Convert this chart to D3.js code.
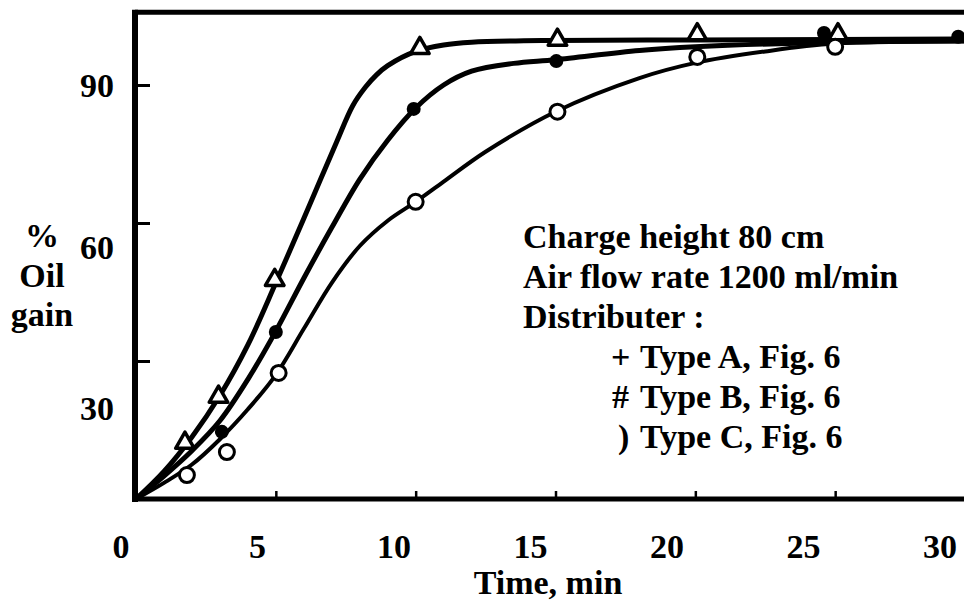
<!DOCTYPE html>
<html>
<head>
<meta charset="utf-8">
<script src="https://cdn.jsdelivr.net/npm/d3@7"></script>
<style>
  html, body { margin: 0; padding: 0; background: #fff; }
  svg { display: block; }
</style>
</head>
<body>
<svg id="chart" width="964" height="604"></svg>
<script>
// ---- data ----
// marker points (time, min ; % oil gain)
const typeA_t = [1.75, 2.95, 4.96, 10.15, 15.07, 20.07, 25.1];
const typeA_v = [12.2, 22.2, 47.6, 98.0, 99.8, 101.0, 101.0];
const typeB_t = [3.07, 5.0, 9.93, 15.03, 24.6, 29.4];
const typeB_v = [14.6, 36.3, 84.8, 95.2, 101.3, 100.5];
const typeC_t = [1.82, 3.25, 5.1, 10.0, 15.07, 20.07, 25.0];
const typeC_v = [5.2, 10.2, 27.4, 64.6, 84.2, 96.1, 98.3];

// hand-drawn smooth curves
const curveA_t = [0, 1, 2, 3, 4, 5, 6, 6.6, 7.2, 7.75, 8.2, 8.6, 9, 10, 11, 12, 15, 20, 25, 30];
const curveA_v = [0, 6, 13.5, 22.5, 33.5, 47, 61, 69.5, 78, 85.5, 89.5, 92.2, 94.2, 97.3, 98.7, 99.3, 99.7, 99.8, 99.9, 100];
const curveB_t = [0, 1, 2, 3, 4, 5, 6, 7, 8, 9, 10, 11, 12, 13.5, 15, 18, 20, 25, 30];
const curveB_v = [0, 5, 10.5, 17, 26, 36.5, 48, 59, 69.5, 78, 85, 90, 93, 94.7, 95.5, 97.5, 98.3, 99.3, 99.6];
const curveC_t = [0, 1, 2, 3, 4, 5, 6, 7, 8, 9, 10, 11, 12.5, 15, 18, 20, 22.5, 25, 30];
const curveC_v = [0, 3.5, 7.5, 13, 19.5, 27, 37, 47, 55, 60.5, 64.6, 69, 75.5, 84.2, 91.5, 94.8, 97.3, 99, 99.5];

// axis ticks and labels
const xTicks = [5, 10, 15, 20, 25];
const xTickLabels = [0, 5, 10, 15, 20, 25, 30];
const yTicks = [30, 60, 90];
const yTickLabels = [30, 60, 90];
const yTitle = ["%", "Oil", "gain"];
const xTitle = "Time, min";
const noteLines = ["Charge height 80 cm", "Air flow rate 1200 ml/min", "Distributer :"];
const legendSymbols = ["+", "#", ")"];
const legendNames = ["Type A, Fig. 6", "Type B, Fig. 6", "Type C, Fig. 6"];

// ---- drawing ----
const FONT = "'Times New Roman', 'Liberation Serif', 'DejaVu Serif', serif";
const svg = d3.select("#chart");
const x = d3.scaleLinear().domain([0, 30]).range([136, 975]);
const y = d3.scaleLinear().domain([0, 90]).range([499, 85]);
// the printed tick labels sit on their own (offset) spacing in the original
const xLab = d3.scaleLinear().domain([0, 30]).range([121, 940]);
const yLab = d3.scaleLinear().domain([30, 90]).range([420, 97]);

const zip = (a, b) => a.map((d, i) => [d, b[i]]);
const txt = sel => sel.attr("font-family", FONT).attr("font-weight", "bold")
  .attr("font-size", 34).attr("fill", "#000");

// frame
svg.append("line").attr("x1", 135).attr("x2", 964).attr("y1", y(105.8)).attr("y2", y(105.8))
  .attr("stroke", "#000").attr("stroke-width", 5);
svg.append("line").attr("x1", 135).attr("x2", 135).attr("y1", y(105.8) - 2.5).attr("y2", y(0) + 3)
  .attr("stroke", "#000").attr("stroke-width", 6);
svg.append("line").attr("x1", 132).attr("x2", 964).attr("y1", y(0)).attr("y2", y(0))
  .attr("stroke", "#000").attr("stroke-width", 5);

// ticks via d3 axes (inward)
const yAx = svg.append("g").attr("transform", "translate(135,0)")
  .call(d3.axisLeft(y).tickValues(yTicks).tickSize(-15).tickFormat(""));
yAx.select(".domain").remove();
yAx.selectAll(".tick line").attr("stroke", "#000").attr("stroke-width", 3);

const xAx = svg.append("g").attr("transform", `translate(0,${y(0)})`)
  .call(d3.axisBottom(x).tickValues(xTicks).tickSize(-8).tickFormat(""));
xAx.select(".domain").remove();
xAx.selectAll(".tick line").attr("stroke", "#000").attr("stroke-width", 2.5);

// tick labels
svg.append("g").selectAll("text").data(xTickLabels).join("text")
  .attr("x", d => xLab(d)).attr("y", 558).attr("text-anchor", "middle")
  .call(txt).text(d => d);
svg.append("g").selectAll("text").data(yTickLabels).join("text")
  .attr("x", 114).attr("y", d => yLab(d)).attr("text-anchor", "end")
  .call(txt).text(d => d);

// axis titles
svg.append("g").selectAll("text").data(yTitle).join("text")
  .attr("x", 42).attr("y", (d, i) => 247 + i * 39.5).attr("text-anchor", "middle")
  .call(txt).text(d => d);
svg.append("text").attr("x", 548).attr("y", 594).attr("text-anchor", "middle")
  .call(txt).text(xTitle);

// curves
const line = d3.line().x(d => x(d[0])).y(d => y(d[1])).curve(d3.curveCatmullRom.alpha(0.5));
const curves = [
  { pts: zip(curveC_t, curveC_v), w: 4 },
  { pts: zip(curveB_t, curveB_v), w: 5 },
  { pts: zip(curveA_t, curveA_v), w: 5 }
];
svg.append("g").selectAll("path").data(curves).join("path")
  .attr("d", d => line(d.pts)).attr("fill", "none").attr("stroke", "#000")
  .attr("stroke-width", d => d.w).attr("stroke-linecap", "round");

// markers
const tri = d3.symbol().type(d3.symbolTriangle).size(150);
svg.append("g").selectAll("path").data(zip(typeA_t, typeA_v)).join("path")
  .attr("d", tri).attr("transform", d => `translate(${x(d[0])},${y(d[1])})`)
  .attr("fill", "#fff").attr("stroke", "#000").attr("stroke-width", 3.5).attr("stroke-linejoin", "round");
svg.append("g").selectAll("circle").data(zip(typeB_t, typeB_v)).join("circle")
  .attr("cx", d => x(d[0])).attr("cy", d => y(d[1])).attr("r", 7).attr("fill", "#000");
svg.append("g").selectAll("circle").data(zip(typeC_t, typeC_v)).join("circle")
  .attr("cx", d => x(d[0])).attr("cy", d => y(d[1])).attr("r", 7.5)
  .attr("fill", "#fff").attr("stroke", "#000").attr("stroke-width", 3);

// annotation / legend text
svg.append("g").selectAll("text").data(noteLines).join("text")
  .attr("x", 523).attr("y", (d, i) => 248 + i * 40)
  .call(txt).text(d => d);
const symX = [611, 612, 618];
const leg = svg.append("g").selectAll("g").data(legendNames).join("g");
leg.append("text").attr("x", (d, i) => symX[i]).attr("y", (d, i) => 368 + i * 40)
  .call(txt).text((d, i) => legendSymbols[i]);
leg.append("text").attr("x", 640).attr("y", (d, i) => 368 + i * 40)
  .call(txt).text(d => d);
</script>
</body>
</html>
